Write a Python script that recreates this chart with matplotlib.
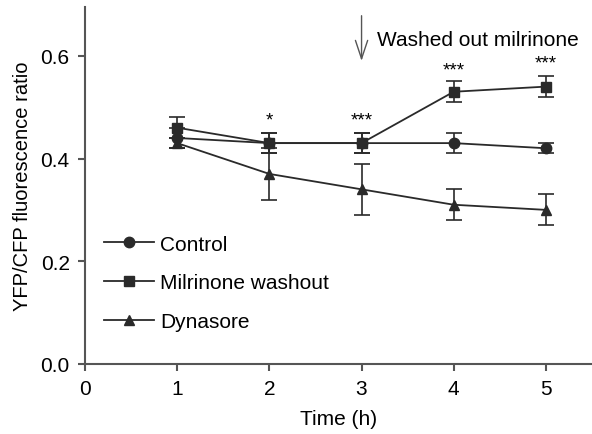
import matplotlib
matplotlib.use('Agg')
import matplotlib.pyplot as plt
from matplotlib.ticker import FixedLocator
from matplotlib.lines import Line2D

plt.rcParams['font.family'] = ['Liberation Sans', 'DejaVu Sans']
plt.rcParams['font.size'] = 15

# data
time_h = [1, 2, 3, 4, 5]
control = [0.44, 0.43, 0.43, 0.43, 0.42]
control_err = [0.02, 0.02, 0.02, 0.02, 0.01]
milrinone = [0.46, 0.43, 0.43, 0.53, 0.54]
milrinone_err = [0.02, 0.02, 0.02, 0.02, 0.02]
dynasore = [0.43, 0.37, 0.34, 0.31, 0.30]
dynasore_err = [0.01, 0.05, 0.05, 0.03, 0.03]

star_x = [2, 3, 4, 5]
star_y = [0.476, 0.476, 0.572, 0.587]
star_txt = ['*', '***', '***', '***']

fig = plt.figure(figsize=(5.92, 4.35), dpi=100)
ax = fig.add_axes([0.1436, 0.161, 0.8564, 0.8206])

axis_col = '#555555'
line_col = '#2a2a2a'
common = dict(color=line_col, linewidth=1.3, elinewidth=1.2, capsize=6,
              capthick=1.2, markersize=7.5, ecolor=line_col)
ax.errorbar(time_h, control, yerr=control_err, marker='o', **common)
ax.errorbar(time_h, milrinone, yerr=milrinone_err, marker='s', **common)
ax.errorbar(time_h, dynasore, yerr=dynasore_err, marker='^', **common)

for x, y, t in zip(star_x, star_y, star_txt):
    ax.text(x, y, t, ha='center', va='center', fontsize=13.5)

# arrow for washout
ax.annotate('', xy=(3, 0.59), xytext=(3, 0.678),
            arrowprops=dict(arrowstyle='->,head_length=0.6,head_width=0.2',
                            color='#555555', lw=1.0, mutation_scale=22,
                            shrinkA=0, shrinkB=0),
            annotation_clip=False)
ax.text(3.17, 0.632, 'Washed out milrinone', ha='left', va='center')

ax.set_xlim(0, 5.5)
ax.set_ylim(0, 0.695)
ax.xaxis.set_major_locator(FixedLocator([0, 1, 2, 3, 4, 5]))
ax.yaxis.set_major_locator(FixedLocator([0.0, 0.2, 0.4, 0.6]))
ax.set_yticklabels(['0.0', '0.2', '0.4', '0.6'])

for s in ['top', 'right']:
    ax.spines[s].set_visible(False)
for s in ['left', 'bottom']:
    ax.spines[s].set_color(axis_col)
    ax.spines[s].set_linewidth(1.5)
ax.tick_params(direction='out', length=5, width=1.5, color=axis_col, pad=6)

ax.set_xlabel('Time (h)', labelpad=8)
ax.set_ylabel('YFP/CFP fluorescence ratio', labelpad=6, fontsize=14.5)

handles = [Line2D([], [], color=line_col, lw=1.3, marker=m, markersize=7.5)
           for m in ['o', 's', '^']]
ax.legend(handles, ['Control', 'Milrinone washout', 'Dynasore'],
          loc='lower left', bbox_to_anchor=(0.0, 0.04), frameon=False,
          handlelength=2.4, handletextpad=0.3, labelspacing=0.94)

plt.savefig('out.png', dpi=100)
